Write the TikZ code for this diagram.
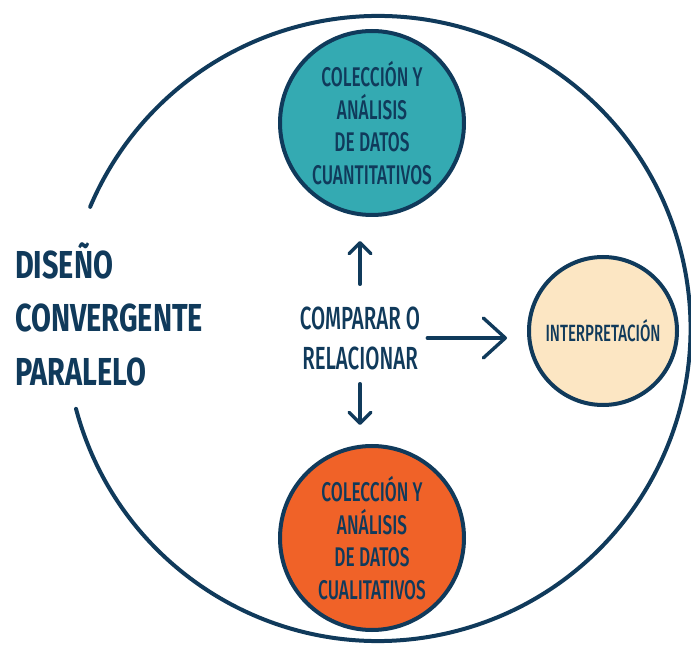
\documentclass[tikz,border=0pt]{standalone}
\usepackage{fontspec}
\setmainfont{Fira Sans}
\newfontfamily\handfont{Fira Sans Medium}[FakeStretch=0.64]
\newfontfamily\titlefont{Fira Sans}[FakeStretch=0.74]
\usetikzlibrary{arrows.meta,calc}

\definecolor{navy}{RGB}{16,58,91}
\definecolor{tealfill}{RGB}{52,170,178}
\definecolor{orangefill}{RGB}{240,98,40}
\definecolor{creamfill}{RGB}{252,230,195}

\tikzset{
  ring/.style={draw=navy, line width=4pt, line cap=round},
  bubble/.style={circle, draw=navy, line width=4pt, inner sep=0pt,
    minimum size=184pt, text=navy, align=center,
    font=\handfont\fontsize{27}{32.7}\selectfont},
  smallbubble/.style={bubble, minimum size=148pt,
    font=\handfont\fontsize{23.5}{26}\selectfont},
  midlabel/.style={inner sep=0pt, text=navy, align=center,
    font=\handfont\fontsize{32}{40}\selectfont},
  titlelabel/.style={inner sep=0pt, text=navy, align=left,
    font=\titlefont\bfseries\fontsize{39}{53.5}\selectfont},
  vlink/.style={draw=navy, line width=3.4pt, line cap=round,
    -{Straight Barb[length=11pt, width=22pt, round]}},
  hlink/.style={draw=navy, line width=3.4pt, line cap=round,
    -{Straight Barb[length=22pt, width=40pt, round]}},
}

\begin{document}
\begin{tikzpicture}[x=1pt, y=1pt]
  \useasboundingbox (0,0) rectangle (691,646);

  % outer ring, open on the left for the title
  \coordinate (ringc) at (378,317.5);
  \draw[ring] (ringc) ++(194.9:312.5) arc[start angle=194.9, end angle=517.1, radius=312.5];

  % title
  \node[titlelabel, anchor=west] (title) at (15,332) {DISEÑO\\CONVERGENTE\\PARALELO};

  % data bubbles
  \node[bubble, fill=tealfill] (quant) at (372,523)
    {COLECCIÓN Y\\ANÁLISIS\\DE DATOS\\CUANTITATIVOS};
  \node[bubble, fill=orangefill] (qual) at (372,108)
    {COLECCIÓN Y\\ANÁLISIS\\DE DATOS\\CUALITATIVOS};
  \node[smallbubble, fill=creamfill] (interp) at (603,315) {INTERPRETACIÓN};

  % central step
  \node[midlabel] (cmp) at (360,308) {COMPARAR O\\RELACIONAR};

  % arrows
  \draw[vlink, shorten <=22pt, shorten >=24pt] (cmp.north) -- (cmp.north |- quant.south);
  \draw[vlink, shorten <=14pt, shorten >=19pt] (cmp.south) -- (cmp.south |- qual.north);
  \draw[hlink, shorten <=7pt, shorten >=20pt] (cmp.east) -- (cmp.east -| interp.west);
\end{tikzpicture}
\end{document}
